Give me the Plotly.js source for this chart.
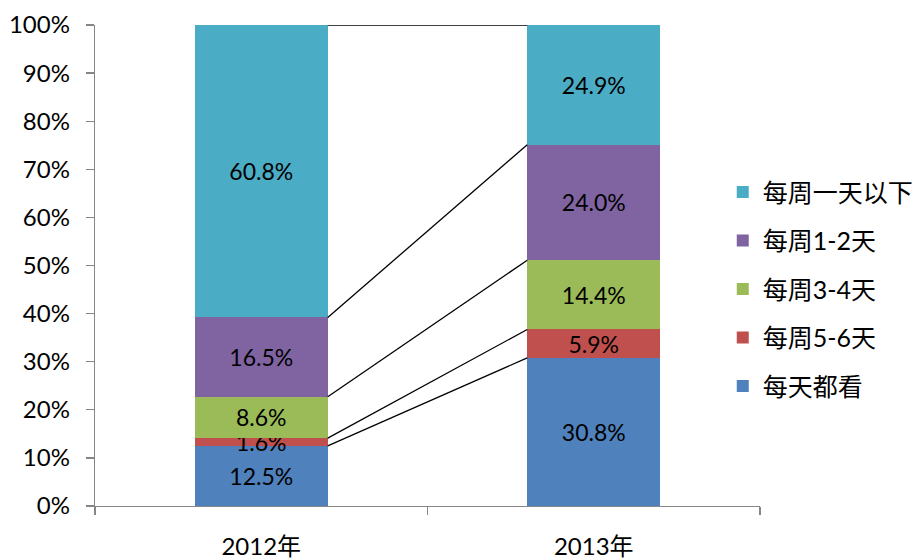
<!DOCTYPE html>
<html><head><meta charset="utf-8">
<script src="https://cdn.plot.ly/plotly-3.0.1.min.js"></script>
<style>html,body{margin:0;padding:0;background:#fff;}</style>
</head><body><div id="chart" style="width:920px;height:560px;"></div>
<script>
var categories = ['2012年', '2013年'];
var seriesNames = ['每天都看', '每周5-6天', '每周3-4天', '每周1-2天', '每周一天以下'];
var daily = [12.5, 30.8];
var days56 = [1.6, 5.9];
var days34 = [8.6, 14.4];
var days12 = [16.5, 24.0];
var lessThanOne = [60.8, 24.9];
var colors = ['#4F81BD', '#C0504D', '#9BBB59', '#8064A2', '#4BACC6'];

var series = [daily, days56, days34, days12, lessThanOne];
var FONT = 'Lato, "Noto Sans CJK SC", sans-serif';
var barWidth = 0.4;

var traces = [];
series.forEach(function (vals, i) {
  traces.push({
    type: 'bar', x: categories, y: vals, name: seriesNames[i],
    marker: {color: colors[i], line: {width: 0}},
    width: barWidth,
    texttemplate: '%{y:.1f}%', textposition: 'inside', insidetextanchor: 'middle',
    constraintext: 'none',
    textfont: {family: FONT, size: 23, color: '#000'},
    hoverinfo: 'skip',
    legendgroup: 'g' + i,
    legendrank: 100 - i * 10
  });
});

// series lines connecting stacked segment tops
var cum = [0, 0];
series.forEach(function (vals) {
  cum = [cum[0] + vals[0], cum[1] + vals[1]];
  traces.push({
    type: 'scatter', mode: 'lines', xaxis: 'x2', yaxis: 'y',
    x: [0 + barWidth / 2, 1 - barWidth / 2], y: [cum[0], cum[1]],
    line: {color: '#000', width: 1.3}, showlegend: false, hoverinfo: 'skip'
  });
});

var layout = {
  width: 920, height: 560,
  margin: {l: 95, r: 160, t: 25, b: 54, autoexpand: false},
  paper_bgcolor: '#fff', plot_bgcolor: 'rgba(0,0,0,0)',
  barmode: 'stack',
  showlegend: true,
  font: {family: FONT, color: '#000'},
  xaxis: {
    type: 'category', range: [-0.5, 1.5], tickson: 'boundaries',
    showline: true, linecolor: '#868686', linewidth: 1.3,
    ticks: 'outside', ticklen: 8, tickcolor: '#868686', tickwidth: 1.3,
    showgrid: false, zeroline: false,
    tickfont: {family: FONT, size: 24, color: '#000'},
    ticklabelstandoff: 19
  },
  xaxis2: {
    overlaying: 'x', type: 'linear', range: [-0.5, 1.5], visible: false
  },
  yaxis: {
    range: [0, 100], dtick: 10, ticksuffix: '%',
    showline: true, linecolor: '#868686', linewidth: 1.3,
    ticks: 'outside', ticklen: 8, tickcolor: '#868686', tickwidth: 1.3,
    showgrid: false, zeroline: false,
    tickfont: {family: FONT, size: 24, color: '#000'},
    ticklabelstandoff: 11
  },
  legend: {
    x: 0.944, y: 0.70, xanchor: 'left', yanchor: 'top',
    traceorder: 'grouped', tracegroupgap: 13,
    font: {family: FONT, size: 25, color: '#000'},
    bgcolor: 'rgba(0,0,0,0)'
  }
};

Plotly.newPlot('chart', traces, layout, {displayModeBar: false, staticPlot: true});
</script></body></html>
